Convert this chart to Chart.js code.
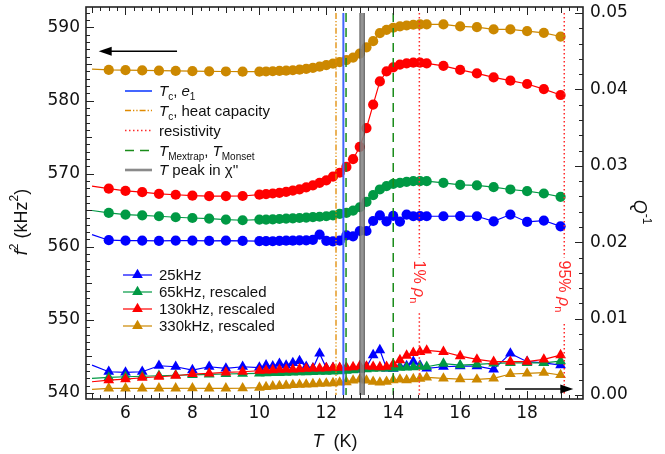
<!DOCTYPE html>
<html>
<head>
<meta charset="utf-8">
<title>f2 and Q-1 vs T</title>
<script src="https://cdn.jsdelivr.net/npm/chart.js@4.4.1/dist/chart.umd.min.js"></script>
<style>
  html, body { margin: 0; padding: 0; background: #fff; }
  #wrap { width: 665px; height: 454px; }
</style>
</head>
<body>
<div id="wrap"><canvas id="chart" width="665" height="454"></canvas></div>
<script>
// temperatures (K)
const temps = [5.0, 5.5, 6.0, 6.5, 7.0, 7.5, 8.0, 8.5, 9.0, 9.5,
  10.0, 10.2, 10.4, 10.6, 10.8, 11.0, 11.2, 11.4, 11.6, 11.8,
  12.0, 12.2, 12.4, 12.6, 12.8, 13.0, 13.2, 13.4, 13.6, 13.8,
  14.0, 14.2, 14.4, 14.6, 14.8, 15.0, 15.5, 16.0, 16.5, 17.0,
  17.5, 18.0, 18.5, 19.0];

// f^2 (kHz^2), left axis
const f2_25 = [561.66, 560.90, 560.85, 560.85, 560.80, 560.85, 560.85, 560.80, 560.85, 560.80,
  560.78, 560.78, 560.76, 560.81, 560.84, 560.84, 560.88, 560.88, 560.95, 561.66,
  560.81, 560.74, 560.84, 561.57, 561.43, 562.16, 562.16, 563.53, 564.29, 563.49,
  564.22, 563.45, 564.41, 564.18, 564.20, 564.18, 564.18, 564.20, 564.18, 563.49,
  564.41, 563.40, 563.59, 562.80];
const f2_65 = [564.96, 564.63, 564.41, 564.31, 564.18, 564.04, 563.94, 563.86, 563.72, 563.63,
  563.72, 563.72, 563.76, 563.80, 563.86, 563.90, 563.94, 564.00, 564.07, 564.11,
  564.18, 564.31, 564.49, 564.63, 564.96, 565.41, 566.14, 567.06, 567.84, 568.30,
  568.61, 568.75, 568.89, 568.98, 568.98, 568.98, 568.75, 568.48, 568.39, 568.16,
  567.84, 567.61, 567.29, 566.83];
const f2_130 = [568.30, 567.95, 567.64, 567.47, 567.24, 567.12, 566.99, 566.92, 566.92, 566.95,
  567.13, 567.21, 567.29, 567.38, 567.51, 567.69, 567.86, 568.12, 568.41, 568.75,
  569.08, 569.61, 570.13, 570.92, 571.98, 573.67, 576.24, 579.45, 582.62, 583.99,
  584.55, 584.92, 585.10, 585.19, 585.19, 585.10, 584.75, 584.19, 583.72, 583.17,
  582.72, 582.27, 581.57, 580.76];
const f2_330 = [584.30, 584.19, 584.16, 584.13, 584.09, 584.05, 584.02, 584.00, 583.98, 583.96,
  583.96, 583.98, 584.01, 584.05, 584.09, 584.15, 584.23, 584.33, 584.46, 584.64,
  584.85, 585.05, 585.26, 585.54, 585.88, 586.43, 587.29, 588.12, 589.22, 589.68,
  589.96, 590.14, 590.27, 590.37, 590.41, 590.41, 590.41, 590.14, 590.04, 589.73,
  589.73, 589.49, 589.27, 588.76];

// Q^-1, right axis
const q_25 = [0.00392, 0.00305, 0.00297, 0.00305, 0.00383, 0.00370, 0.00327, 0.00370, 0.00349, 0.00370,
  0.00360, 0.00389, 0.00376, 0.00410, 0.00388, 0.00420, 0.00446, 0.00370, 0.00350, 0.00545,
  0.00353, 0.00353, 0.00349, 0.00344, 0.00334, 0.00334, 0.00366, 0.00523, 0.00589, 0.00349,
  0.00344, 0.00370, 0.00379, 0.00436, 0.00386, 0.00349, 0.00370, 0.00379, 0.00379, 0.00336,
  0.00545, 0.00436, 0.00422, 0.00392];
const q_65 = [0.00218, 0.00231, 0.00239, 0.00246, 0.00252, 0.00259, 0.00264, 0.00271, 0.00275, 0.00279,
  0.00284, 0.00285, 0.00288, 0.00290, 0.00293, 0.00296, 0.00298, 0.00301, 0.00303, 0.00305,
  0.00306, 0.00310, 0.00314, 0.00318, 0.00327, 0.00336, 0.00340, 0.00344, 0.00349, 0.00349,
  0.00349, 0.00357, 0.00360, 0.00366, 0.00370, 0.00370, 0.00412, 0.00392, 0.00402, 0.00414,
  0.00422, 0.00422, 0.00422, 0.00445];
const q_130 = [0.00174, 0.00196, 0.00209, 0.00226, 0.00239, 0.00252, 0.00275, 0.00284, 0.00297, 0.00305,
  0.00318, 0.00323, 0.00327, 0.00331, 0.00334, 0.00336, 0.00340, 0.00344, 0.00347, 0.00349,
  0.00353, 0.00357, 0.00357, 0.00362, 0.00366, 0.00379, 0.00375, 0.00370, 0.00366, 0.00370,
  0.00405, 0.00458, 0.00517, 0.00553, 0.00566, 0.00585, 0.00566, 0.00510, 0.00467, 0.00436,
  0.00436, 0.00436, 0.00467, 0.00523];
const q_330 = [0.00075, 0.00088, 0.00088, 0.00087, 0.00088, 0.00088, 0.00089, 0.00088, 0.00088, 0.00090,
  0.00098, 0.00105, 0.00114, 0.00118, 0.00124, 0.00131, 0.00135, 0.00140, 0.00144, 0.00148,
  0.00153, 0.00157, 0.00166, 0.00170, 0.00192, 0.00203, 0.00190, 0.00174, 0.00166, 0.00174,
  0.00196, 0.00203, 0.00196, 0.00209, 0.00216, 0.00231, 0.00218, 0.00209, 0.00205, 0.00218,
  0.00275, 0.00284, 0.00292, 0.00262];

// transition temperatures (K) drawn as vertical lines
const tcE1 = 12.51;
const tcHeat = 12.29;
const tMextrap = 12.59;
const tMonset = 14.0;
const tPeak = [13.01, 13.13];
const rho1 = 14.78;
const rho95 = 19.11;

// axes
const xTicks = [6, 8, 10, 12, 14, 16, 18];
const f2Ticks = [540, 550, 560, 570, 580, 590];
const qTicks = [0, 0.01, 0.02, 0.03, 0.04, 0.05];
const X_MIN = 4.82, X_MAX = 19.67;
const F2_MIN = 539.18, F2_MAX = 592.8;
const Q_MIN = -0.00052, Q_MAX = 0.05079;

const freqLabels = ['25kHz', '65kHz, rescaled', '130kHz, rescaled', '330kHz, rescaled'];
const colBlue = '#0000ff', colGreen = '#009944', colRed = '#ff0000', colGold = '#cc8800';

const FONT = '"Liberation Sans", Arial, sans-serif';
const TICK_FONT = '"DejaVu Sans", sans-serif';

function circles(vals, color, order) {
  return {
    yAxisID: 'yF', order,
    data: temps.map((t, i) => ({ x: t, y: vals[i] })),
    borderColor: color, backgroundColor: color, borderWidth: 1.2,
    pointStyle: 'circle', pointBorderWidth: 0,
    pointRadius: c => c.dataIndex === 0 ? 0 : 5.1
  };
}
function triangles(vals, color, order) {
  return {
    yAxisID: 'yQ', order,
    data: temps.map((t, i) => ({ x: t, y: vals[i] })),
    borderColor: color, backgroundColor: color, borderWidth: 1.2,
    pointStyle: 'triangle', pointBorderWidth: 0,
    pointRadius: c => c.dataIndex === 0 ? 0 : 6.2
  };
}
// vertical line made of [qTop, qBottom] pieces on the Q axis
function vline(xv, color, width, dash, pieces) {
  const data = [];
  pieces.forEach((p, i) => {
    if (i) data.push({ x: xv, y: null });
    data.push({ x: xv, y: p[0] }, { x: xv, y: p[1] });
  });
  return { yAxisID: 'yQ', order: 0, data, borderColor: color, borderWidth: width,
    borderDash: dash, borderCapStyle: 'butt', pointRadius: 0, spanGaps: false };
}

const full = [[0.05, 0]];
const rho1Gap = [[0.05, 0.0180], [0.0107, 0]];
const rho95Gap = [[0.05, 0.0180], [0.0093, 0]];

const styles = {
  e1: { color: '#4466ff', width: 2, dash: [] },
  heat: { color: '#e08a00', width: 1.3, dash: [6, 2, 1.3, 2, 1.3, 2] },
  rho: { color: '#ff2a2a', width: 1.5, dash: [1.5, 2.5] },
  mag: { color: '#1a8c1a', width: 1.5, dash: [9, 6] },
  peak: { color: '#8a8a8a', width: 2.6, dash: [] }
};

const datasets = [
  vline(tcHeat, styles.heat.color, styles.heat.width, styles.heat.dash, full),
  vline(tcE1, styles.e1.color, styles.e1.width, [], full),
  vline(tMextrap, styles.mag.color, styles.mag.width, styles.mag.dash, full),
  vline(tMonset, styles.mag.color, styles.mag.width, styles.mag.dash, full),
  vline((tPeak[0] + tPeak[1]) / 2, 'rgba(130,130,130,0.85)', 4, [], full),
  vline(tPeak[0], '#3a3a3a', 1.2, [], full),
  vline(tPeak[1], '#3a3a3a', 1.2, [], full),
  vline(rho1, styles.rho.color, styles.rho.width, styles.rho.dash, rho1Gap),
  vline(rho95, styles.rho.color, styles.rho.width, styles.rho.dash, rho95Gap),
  circles(f2_25, colBlue, 4),
  circles(f2_65, colGreen, 4),
  circles(f2_130, colRed, 4),
  circles(f2_330, colGold, 4),
  triangles(q_25, colBlue, 7),
  triangles(q_65, colGreen, 6),
  triangles(q_130, colRed, 5),
  triangles(q_330, colGold, 8)
];

// rich text helpers (italic symbols, sub/superscripts)
const N = (t, s) => ({ text: t, font: (s || 15) + 'px ' + FONT });
const I = (t, s) => ({ text: t, font: 'italic ' + (s || 15) + 'px ' + FONT });
const SUB = (t, s) => ({ text: t, font: (s || 10) + 'px ' + FONT, dy: 4 });
const SUP = (t, s, dy) => ({ text: t, font: (s || 12) + 'px ' + FONT, dy: dy || -8 });

function rich(ctx, parts, x, y, align) {
  let w = 0;
  for (const p of parts) { ctx.font = p.font; w += ctx.measureText(p.text).width; }
  let cx = align === 'center' ? x - w / 2 : x;
  for (const p of parts) {
    ctx.font = p.font;
    ctx.fillText(p.text, cx, y + (p.dy || 0));
    cx += ctx.measureText(p.text).width;
  }
  return w;
}

const lineKeys = [
  { st: styles.e1, parts: [I('T'), SUB('c'), N(', '), I('e'), SUB('1')] },
  { st: styles.heat, parts: [I('T'), SUB('c'), N(', heat capacity')] },
  { st: styles.rho, parts: [N('resistivity')] },
  { st: styles.mag, parts: [I('T'), SUB('Mextrap'), N(', '), I('T'), SUB('Monset')] },
  { st: styles.peak, parts: [I('T'), N(' peak in \u03c7\'\'')] }
];
const lineKeyRows = [91, 110.5, 130.5, 150.5, 170];
const freqKeyRows = [275, 292, 309, 326];
const freqColors = [colBlue, colGreen, colRed, colGold];

// axis-direction arrows (data coordinates)
const arrowLeft = { from: 7.54, to: 5.2, f2: 586.75 };
const arrowRight = { from: 17.34, to: 19.38, q: 0.00078 };

function arrow(ctx, x0, y0, x1, y1) {
  const dir = Math.sign(x1 - x0);
  ctx.strokeStyle = '#000'; ctx.fillStyle = '#000'; ctx.lineWidth = 1.5;
  ctx.beginPath(); ctx.moveTo(x0, y0); ctx.lineTo(x1 - dir * 10, y1); ctx.stroke();
  ctx.beginPath(); ctx.moveTo(x1, y1); ctx.lineTo(x1 - dir * 13, y1 - 4.5);
  ctx.lineTo(x1 - dir * 13, y1 + 4.5); ctx.closePath(); ctx.fill();
}

const decor = {
  id: 'decor',
  afterDraw(chart) {
    const ctx = chart.ctx, a = chart.chartArea;
    const x = chart.scales.x, yF = chart.scales.yF, yQ = chart.scales.yQ;
    ctx.save();

    // inward tick marks
    ctx.strokeStyle = '#222'; ctx.lineWidth = 1;
    ctx.beginPath();
    for (let i = Math.ceil(X_MIN * 4); i <= X_MAX * 4; i++) {
      const len = i % 8 === 0 ? 8 : (i % 4 === 0 ? 6 : 4);
      const px = Math.round(x.getPixelForValue(i / 4)) + 0.5;
      ctx.moveTo(px, a.bottom); ctx.lineTo(px, a.bottom - len);
      ctx.moveTo(px, a.top); ctx.lineTo(px, a.top + len);
    }
    for (let v = 540; v <= 592; v++) {
      const len = v % 10 === 0 ? 8 : (v % 5 === 0 ? 6 : 4);
      const py = Math.round(yF.getPixelForValue(v)) + 0.5;
      ctx.moveTo(a.left, py); ctx.lineTo(a.left + len, py);
    }
    for (let k = 0; k <= 25; k++) {
      const len = k % 5 === 0 ? 8 : 4;
      const py = Math.round(yQ.getPixelForValue(k * 0.002)) + 0.5;
      ctx.moveTo(a.right, py); ctx.lineTo(a.right - len, py);
    }
    ctx.stroke();

    // frame
    ctx.lineWidth = 1.6; ctx.strokeStyle = '#222';
    ctx.strokeRect(a.left, a.top, a.right - a.left, a.bottom - a.top);

    // arrows
    arrow(ctx, x.getPixelForValue(arrowLeft.from), yF.getPixelForValue(arrowLeft.f2),
      x.getPixelForValue(arrowLeft.to), yF.getPixelForValue(arrowLeft.f2));
    arrow(ctx, x.getPixelForValue(arrowRight.from), yQ.getPixelForValue(arrowRight.q),
      x.getPixelForValue(arrowRight.to), yQ.getPixelForValue(arrowRight.q));

    ctx.textBaseline = 'alphabetic';
    ctx.fillStyle = '#111';

    // key of vertical lines
    lineKeys.forEach((k, i) => {
      const y = lineKeyRows[i];
      ctx.strokeStyle = k.st.color; ctx.lineWidth = k.st.width;
      ctx.setLineDash(k.st.dash);
      ctx.beginPath(); ctx.moveTo(125, y); ctx.lineTo(152, y); ctx.stroke();
      ctx.setLineDash([]);
      ctx.fillStyle = '#111';
      rich(ctx, k.parts, 159, y + 5);
    });

    // key of frequencies
    freqLabels.forEach((lab, i) => {
      const y = freqKeyRows[i];
      ctx.strokeStyle = freqColors[i]; ctx.lineWidth = 1.2;
      ctx.beginPath(); ctx.moveTo(123, y); ctx.lineTo(152, y); ctx.stroke();
      ctx.fillStyle = freqColors[i];
      Chart.helpers.drawPoint(ctx, { pointStyle: 'triangle', radius: 6.2, rotation: 0, borderWidth: 0 }, 137.5, y);
      ctx.fillStyle = '#111';
      rich(ctx, [N(lab)], 159, y + 5);
    });

    // resistivity labels, rotated along their lines
    ctx.fillStyle = '#ff2a2a';
    [[rho1, '1% ', rho1Gap[0][1]], [rho95, '95% ', rho95Gap[0][1]]].forEach(r => {
      ctx.save();
      ctx.translate(x.getPixelForValue(r[0]), yQ.getPixelForValue(r[2]) + 3);
      ctx.rotate(Math.PI / 2);
      rich(ctx, [N(r[1], 16), I('\u03c1', 16), SUB('n', 11)], 0, 5.5);
      ctx.restore();
    });

    // axis titles
    ctx.fillStyle = '#111';
    rich(ctx, [I('T', 18), N('  (K)', 18)], 335, 447, 'center');
    ctx.save();
    ctx.translate(27, 222); ctx.rotate(-Math.PI / 2);
    rich(ctx, [I('f', 18), SUP('2', 12, -9), N(' (kHz', 18), SUP('2', 12, -9), N(')', 18)], 0, 0, 'center');
    ctx.restore();
    ctx.save();
    ctx.translate(634, 212); ctx.rotate(Math.PI / 2);
    rich(ctx, [I('Q', 18), SUP('-1', 12, -9)], 0, 0, 'center');
    ctx.restore();

    ctx.restore();
  }
};

const tickFont = { family: TICK_FONT, size: 17 };

new Chart(document.getElementById('chart'), {
  type: 'line',
  data: { datasets },
  options: {
    responsive: false,
    animation: false,
    events: [],
    layout: { padding: { top: 7, left: 0, right: 0, bottom: 0 } },
    elements: { line: { tension: 0 } },
    plugins: { legend: { display: false }, tooltip: { enabled: false } },
    scales: {
      x: {
        type: 'linear', min: X_MIN, max: X_MAX,
        grid: { display: false, drawTicks: false }, border: { display: false },
        ticks: { font: tickFont, color: '#111', padding: 4, maxRotation: 0, autoSkip: false,
          callback: v => String(v) },
        afterBuildTicks: s => { s.ticks = xTicks.map(v => ({ value: v })); },
        afterFit: s => { s.height = 55; s.paddingLeft = 0; s.paddingRight = 0; }
      },
      yF: {
        type: 'linear', position: 'left', min: F2_MIN, max: F2_MAX,
        grid: { display: false, drawTicks: false }, border: { display: false },
        ticks: { font: tickFont, color: '#111', padding: 6, callback: v => String(v) },
        afterBuildTicks: s => { s.ticks = f2Ticks.map(v => ({ value: v })); },
        afterFit: s => { s.width = 86; s.paddingTop = 0; s.paddingBottom = 0; }
      },
      yQ: {
        type: 'linear', position: 'right', min: Q_MIN, max: Q_MAX,
        grid: { display: false, drawTicks: false }, border: { display: false },
        ticks: { font: tickFont, color: '#111', padding: 7, callback: v => v.toFixed(2) },
        afterBuildTicks: s => { s.ticks = qTicks.map(v => ({ value: v })); },
        afterFit: s => { s.width = 82; s.paddingTop = 0; s.paddingBottom = 0; }
      }
    }
  },
  plugins: [decor]
});
</script>
</body>
</html>
